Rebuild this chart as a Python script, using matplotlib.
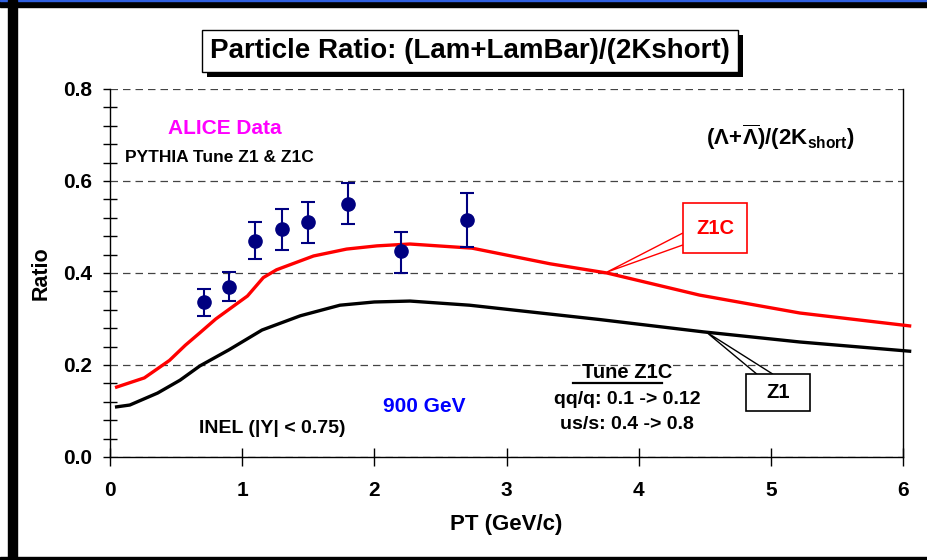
import matplotlib.pyplot as plt
import matplotlib.patches as mpatches
from matplotlib.ticker import MultipleLocator, FormatStrFormatter

plt.rcParams['font.family'] = ['Liberation Sans', 'DejaVu Sans']
plt.rcParams['font.weight'] = 'bold'
plt.rcParams['axes.labelweight'] = 'bold'
plt.rcParams['mathtext.fontset'] = 'custom'
plt.rcParams['mathtext.rm'] = 'Liberation Sans:bold'
plt.rcParams['mathtext.it'] = 'Liberation Sans:bold'
plt.rcParams['mathtext.bf'] = 'Liberation Sans:bold'

# ALICE 900 GeV data
pt_data = [0.71, 0.90, 1.10, 1.30, 1.50, 1.80, 2.20, 2.70]
ratio_data = [0.337, 0.370, 0.470, 0.495, 0.510, 0.550, 0.447, 0.516]
err_lo = [0.030, 0.030, 0.040, 0.045, 0.045, 0.043, 0.047, 0.060]
err_hi = [0.028, 0.032, 0.040, 0.045, 0.045, 0.045, 0.043, 0.059]

# PYTHIA Tune Z1C
pt_z1c = [0.05, 0.26, 0.45, 0.57, 0.68, 0.80, 1.04, 1.16, 1.26, 1.54, 1.79,
          2.02, 2.27, 2.74, 3.33, 3.76, 4.46, 5.22, 6.05]
ratio_z1c = [0.152, 0.172, 0.210, 0.243, 0.270, 0.300, 0.350, 0.390, 0.407,
             0.437, 0.452, 0.459, 0.463, 0.454, 0.420, 0.400, 0.352, 0.313,
             0.285]

# PYTHIA Tune Z1
pt_z1 = [0.05, 0.15, 0.36, 0.53, 0.68, 0.90, 1.15, 1.44, 1.74, 2.00, 2.27,
         2.72, 3.70, 4.49, 5.22, 6.05]
ratio_z1 = [0.109, 0.113, 0.139, 0.167, 0.198, 0.233, 0.276, 0.307, 0.330,
            0.337, 0.339, 0.330, 0.299, 0.272, 0.250, 0.230]

fig = plt.figure(figsize=(9.27, 5.6), dpi=100)
ax = fig.add_axes([110 / 927, 103 / 560, 793 / 927, 368 / 560])

ax.plot(pt_z1c, ratio_z1c, color='#ff0000', lw=2.4, clip_on=False, zorder=3)
ax.plot(pt_z1, ratio_z1, color='black', lw=2.4, clip_on=False, zorder=3)
ax.errorbar(pt_data, ratio_data, yerr=[err_lo, err_hi], fmt='o', color='#000080',
            ms=9.5, elinewidth=1.5, capsize=5, capthick=1.5, zorder=5)

ax.set_xlim(0, 6)
ax.set_ylim(0, 0.8)
ax.xaxis.set_major_locator(MultipleLocator(1))
ax.yaxis.set_major_locator(MultipleLocator(0.2))
ax.yaxis.set_minor_locator(MultipleLocator(0.04))
ax.yaxis.set_major_formatter(FormatStrFormatter('%.1f'))
ax.tick_params(axis='y', which='major', direction='out', length=5, width=1,
               labelsize=15, pad=8)
ax.tick_params(axis='y', which='minor', direction='inout', length=10, width=1)
ax.tick_params(axis='x', which='major', direction='inout', length=13, width=1,
               labelsize=15, pad=11)
ax.grid(axis='y', which='major', linestyle=(0, (6, 4)), color='#444444', lw=0.9)
ax.spines['top'].set_visible(False)
for s in ['left', 'bottom', 'right']:
    ax.spines[s].set_linewidth(1.0)

ax.set_xlabel('PT (GeV/c)', fontsize=16, labelpad=10)
ax.set_ylabel('Ratio', fontsize=15.5, labelpad=8)

ax.text(0.87, 0.715, 'ALICE Data', color='#ff00ff', fontsize=15,
        ha='center', va='center')
ax.text(0.11, 0.652, 'PYTHIA Tune Z1 & Z1C', color='black', fontsize=12.5,
        ha='left', va='center')
ax.text(5.07, 0.696, r'$(\Lambda\!+\!\overline{\Lambda})/(2\mathrm{K}_{\mathrm{short}})$',
        fontsize=16, ha='center', va='center')
ax.text(2.38, 0.109, '900 GeV', color='#0000ff', fontsize=15,
        ha='center', va='center')
ax.text(1.225, 0.063, 'INEL (|Y| < 0.75)', fontsize=14, ha='center', va='center')
ax.text(3.91, 0.184, 'Tune Z1C', fontsize=14.5, ha='center', va='center')
ax.plot([3.50, 4.18], [0.160, 0.160], color='black', lw=1.6)
ax.text(3.91, 0.124, 'qq/q: 0.1 -> 0.12', fontsize=14, ha='center', va='center')
ax.text(3.91, 0.070, 'us/s: 0.4 -> 0.8', fontsize=14, ha='center', va='center')

# callouts for the two tunes
ax.add_patch(mpatches.Polygon([[4.335, 0.487], [3.76, 0.402], [4.335, 0.461]],
                              closed=False, fill=False, edgecolor='#ff0000',
                              lw=1.0, zorder=6))
ax.add_patch(mpatches.Rectangle((4.335, 0.443), 0.485, 0.109, facecolor='white',
                                edgecolor='#ff0000', lw=1.2, zorder=7))
ax.text(4.578, 0.4975, 'Z1C', color='#ff0000', fontsize=14.5, ha='center',
        va='center', zorder=8)

ax.add_patch(mpatches.Polygon([[4.895, 0.180], [4.51, 0.272], [5.016, 0.180]],
                              closed=False, fill=False, edgecolor='black',
                              lw=1.0, zorder=6))
ax.add_patch(mpatches.Rectangle((4.81, 0.100), 0.49, 0.080, facecolor='white',
                                edgecolor='black', lw=1.2, zorder=7))
ax.text(5.055, 0.140, 'Z1', color='black', fontsize=14.5, ha='center',
        va='center', zorder=8)

# title box with a drop shadow behind it
title = fig.text(470 / 927, 1 - 51 / 560, 'Particle Ratio: (Lam+LamBar)/(2Kshort)',
                 fontsize=20, color='black', ha='center', va='center', zorder=5,
                 bbox=dict(boxstyle='square,pad=0.3', facecolor='white',
                           edgecolor='black', lw=1.0))
fig.canvas.draw()
bb = title.get_bbox_patch().get_window_extent()
fig.patches.append(mpatches.Rectangle((bb.x0 + 5, bb.y0 - 5), bb.width, bb.height,
                                      transform=None, facecolor='black',
                                      edgecolor='none', zorder=1))

# frame bars around the sheet
fig.patches.append(mpatches.Rectangle((0, 1 - 7 / 560), 1, 7 / 560,
                                      transform=fig.transFigure, color='black'))
fig.patches.append(mpatches.Rectangle((0, 1 - 1.2 / 560), 1, 1.2 / 560,
                                      transform=fig.transFigure, color='#3060e0'))
fig.patches.append(mpatches.Rectangle((8 / 927, 0), 9 / 927, 1,
                                      transform=fig.transFigure, color='black'))
fig.patches.append(mpatches.Rectangle((0, 0), 1, 3 / 560,
                                      transform=fig.transFigure, color='black'))

fig.savefig('out.png', dpi=100)
